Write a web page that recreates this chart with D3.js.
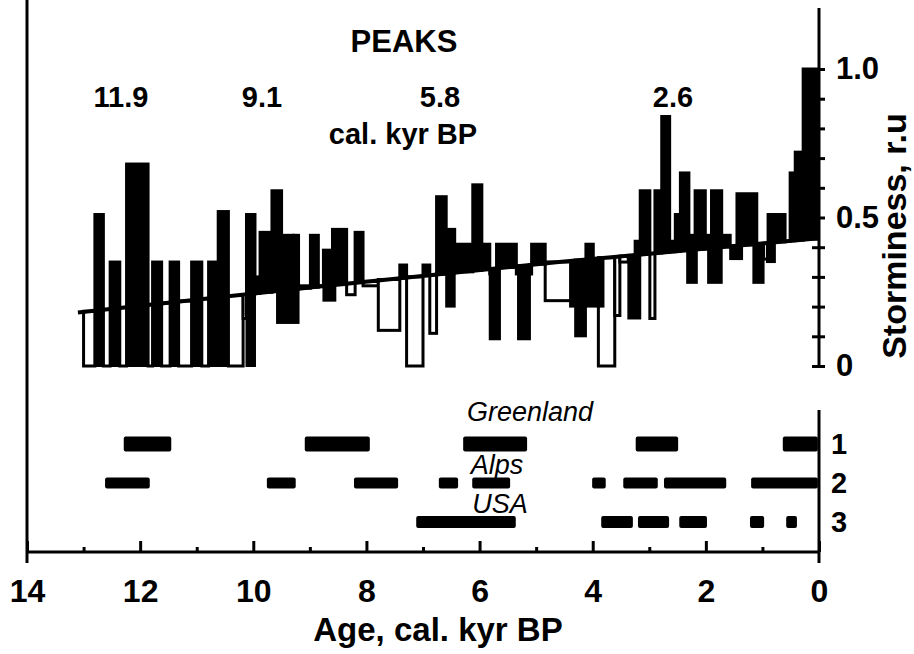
<!DOCTYPE html>
<html>
<head>
<meta charset="utf-8">
<script src="https://cdn.jsdelivr.net/npm/d3@7"></script>
<style>
  body { margin: 0; background: #fff; }
  svg { display: block; font-family: "Liberation Sans", Arial, sans-serif; }
</style>
</head>
<body>
<script>
/* ============================ DATA ============================ */

// storminess record: start age of each bin (cal. kyr BP), the last bin ends at stormEnd
var stormAge = [13.00, 12.80, 12.65, 12.53, 12.36, 12.24, 12.08, 12.03, 11.86, 11.78,
                11.62, 11.47, 11.32, 11.09, 10.91, 10.79, 10.62, 10.44, 10.18, 10.12,
                 9.97,  9.88,  9.67,  9.50,  9.29,  9.20,  8.99,  8.85,  8.76,  8.60,
                 8.35,  8.20,  8.06,  7.79,  7.41,  7.29,  7.00,  6.88,  6.76,  6.59,
                 6.44,  6.12,  5.96,  5.82,  5.70,  5.35,  5.29,  5.11,  5.08,  4.84,
                 4.31,  4.12,  3.99,  3.90,  3.61,  3.52,  3.37,  3.25,  3.16,  2.99,
                 2.90,  2.78,  2.64,  2.54,  2.45,  2.30,  2.19,  2.01,  1.90,  1.72,
                 1.57,  1.45,  1.10,  0.98,  0.90,  0.78,  0.60,  0.51,  0.42,  0.28];
var stormEnd = 0.02;
var stormVal = [0.00, 0.51, 0.00, 0.35, 0.00, 0.68, 0.37, 0.68, 0.00, 0.35,
                0.00, 0.35, 0.00, 0.35, 0.00, 0.35, 0.52, 0.00, 0.16, 0.51,
                0.30, 0.45, 0.59, 0.44, 0.44, 0.27, 0.44, 0.27, 0.39, 0.46,
                0.24, 0.45, 0.27, 0.12, 0.34, 0.00, 0.34, 0.11, 0.57, 0.46,
                0.41, 0.61, 0.41, 0.31, 0.41, 0.31, 0.31, 0.31, 0.41, 0.22,
                0.30, 0.41, 0.30, 0.00, 0.17, 0.35, 0.36, 0.42, 0.59, 0.16,
                0.59, 0.84, 0.42, 0.51, 0.65, 0.44, 0.59, 0.44, 0.59, 0.44,
                0.40, 0.58, 0.40, 0.36, 0.51, 0.51, 0.42, 0.65, 0.72, 1.00];

// filled low-storminess segments (from the trend down to darkLow)
var darkFrom = [12.80, 12.53, 12.24, 11.78, 11.47, 11.09, 10.79, 10.12, 9.58, 8.76,
                6.59, 5.82, 5.32, 4.40, 4.31, 3.37, 2.33, 1.96, 1.57, 1.16, 0.92];
var darkTo   = [12.65, 12.36, 11.86, 11.62, 11.32, 10.91, 10.44, 9.97, 9.20, 8.55,
                6.44, 5.64, 5.11, 3.81, 4.12, 3.16, 2.16, 1.72, 1.36, 0.98, 0.78];
var darkLow  = [0, 0, 0, 0, 0, 0, 0, 0, 0.145, 0.22,
                0.20, 0.09, 0.09, 0.20, 0.10, 0.16, 0.28, 0.28, 0.36, 0.28, 0.35];

// linear-ish trend
var trendAge = [13.1, 9.2, 4.6, 0.0];
var trendVal = [0.18, 0.26, 0.35, 0.43];

var peakAges = [11.9, 9.1, 5.8, 2.6];

// records of storm periods, rows 1-3
var rowNames = ["1", "2", "3"];
var rowLabels = ["Greenland", "Alps", "USA"];
var greenland = [[12.29, 11.45], [9.09, 7.94], [6.29, 5.16], [3.24, 2.49], [0.64, 0.02]];
var alps = [[12.62, 11.83], [9.76, 9.25], [8.22, 7.44], [6.72, 6.38], [6.13, 5.46],
            [4.01, 3.77], [3.46, 2.85], [2.74, 1.64], [1.20, 0.02]];
var usa = [[7.12, 5.36], [3.85, 3.29], [3.20, 2.65], [2.47, 1.98], [1.22, 0.97], [0.58, 0.39]];

var ageTicks = [14, 12, 10, 8, 6, 4, 2, 0];
var ageMinor = [13, 11, 9, 7, 5, 3, 1];
var stormTicks = [0, 0.1, 0.2, 0.3, 0.4, 0.5, 0.6, 0.7, 0.8, 0.9, 1.0];
var stormLabelled = {0: "0", 0.5: "0.5", 1: "1.0"};

/* ============================ SCALES ============================ */

var width = 914,
    height = 654;

var x = d3.scaleLinear().domain([14, 0]).range([27, 819]);
var y = d3.scaleLinear().domain([0, 1]).range([366, 69]);
var trend = d3.scaleLinear().domain(trendAge).range(trendVal);
var row = d3.scalePoint().domain(rowNames).range([444, 522]);

var svg = d3.select('body').append('svg')
    .attr('width', width)
    .attr('height', height);

/* ============================ STORMINESS ============================ */

var bins = stormVal.map(function(v, i) {
  var a1 = i < stormAge.length - 1 ? stormAge[i + 1] : stormEnd;
  return {a0: stormAge[i], a1: a1, v: v, t: trend((stormAge[i] + a1) / 2)};
});

svg.append('g').selectAll('rect')
    .data(bins.filter(function(d) { return d.v < d.t; }))
  .enter().append('rect')
    .attr('x', function(d) { return x(d.a0); })
    .attr('width', function(d) { return x(d.a1) - x(d.a0); })
    .attr('y', function(d) { return y(d.t); })
    .attr('height', function(d) { return y(d.v) - y(d.t); })
    .style('fill', '#fff')
    .style('stroke', '#000')
    .style('stroke-width', 3);

var dark = darkFrom.map(function(a, i) {
  return {a0: a, a1: darkTo[i], v: darkLow[i], t: trend((a + darkTo[i]) / 2)};
});

svg.append('g').selectAll('rect')
    .data(dark)
  .enter().append('rect')
    .attr('x', function(d) { return x(d.a0) - 1; })
    .attr('width', function(d) { return x(d.a1) - x(d.a0) + 2; })
    .attr('y', function(d) { return y(d.t); })
    .attr('height', function(d) { return y(d.v) - y(d.t) + 1; })
    .style('fill', '#000');

svg.append('g').selectAll('rect')
    .data(bins.filter(function(d) { return d.v >= d.t; }))
  .enter().append('rect')
    .attr('x', function(d) { return x(d.a0); })
    .attr('width', function(d) { return x(d.a1) - x(d.a0); })
    .attr('y', function(d) { return y(d.v); })
    .attr('height', function(d) { return y(d.t) - y(d.v); })
    .style('fill', '#000')
    .style('stroke', '#000')
    .style('stroke-width', 3);

var trendLine = d3.line()
    .x(function(d, i) { return x(d); })
    .y(function(d, i) { return y(trendVal[i]); })
    .curve(d3.curveMonotoneX);

svg.append('path')
    .attr('d', trendLine(trendAge))
    .style('fill', 'none')
    .style('stroke', '#000')
    .style('stroke-width', 4);

/* ============================ STORM RECORDS ============================ */

var rowHeight = {"1": 15, "2": 11, "3": 12};
[greenland, alps, usa].forEach(function(periods, r) {
  var name = rowNames[r];
  svg.append('g').selectAll('rect')
      .data(periods)
    .enter().append('rect')
      .attr('x', function(d) { return x(d[0]); })
      .attr('width', function(d) { return x(d[1]) - x(d[0]); })
      .attr('y', row(name) - rowHeight[name] / 2)
      .attr('height', rowHeight[name])
      .attr('rx', 2)
      .style('fill', '#000');
});

var labelPos = [[530, row("1") - 23], [497, row("2") - 9], [500, row("3") - 9]];
svg.append('g').selectAll('text')
    .data(rowLabels)
  .enter().append('text')
    .attr('x', function(d, i) { return labelPos[i][0]; })
    .attr('y', function(d, i) { return labelPos[i][1]; })
    .attr('text-anchor', 'middle')
    .style('font-size', '27px')
    .style('font-style', 'italic')
    .text(function(d) { return d; });

svg.append('g').selectAll('text')
    .data(rowNames)
  .enter().append('text')
    .attr('x', 831)
    .attr('y', function(d) { return row(d); })
    .attr('dy', '0.36em')
    .style('font-size', '29px')
    .style('font-weight', 'bold')
    .text(function(d) { return d; });

/* ============================ AXES ============================ */

function styleAxis(g) {
  g.select('.domain').remove();
  g.selectAll('line').style('stroke', '#000').style('stroke-width', 3);
  g.selectAll('text')
      .style('font-family', '"Liberation Sans", Arial, sans-serif')
      .style('font-weight', 'bold')
      .style('fill', '#000');
}

var lines = svg.append('g').style('stroke', '#000').style('stroke-width', 3);
lines.append('line').attr('x1', x(14)).attr('x2', x(14)).attr('y1', 0).attr('y2', 563);
lines.append('line').attr('x1', x(14)).attr('x2', x(0)).attr('y1', 552).attr('y2', 552);
lines.append('line').attr('x1', x(0)).attr('x2', x(0)).attr('y1', 8).attr('y2', y(0));
lines.append('line').attr('x1', x(0)).attr('x2', x(0)).attr('y1', 410).attr('y2', 563);

svg.append('g')
    .attr('transform', 'translate(0,552)')
    .call(d3.axisTop(x).tickValues(ageTicks).tickSize(11).tickFormat(''))
    .call(styleAxis);

svg.append('g')
    .attr('transform', 'translate(0,552)')
    .call(d3.axisTop(x).tickValues(ageMinor).tickSize(5).tickFormat(''))
    .call(styleAxis);

svg.append('g')
    .attr('transform', 'translate(0,552)')
    .call(d3.axisBottom(x).tickValues(ageTicks).tickSize(0).tickPadding(27).tickFormat(d3.format('d')))
    .call(styleAxis)
    .selectAll('text').style('font-size', '32px');

svg.append('g')
    .attr('transform', 'translate(' + x(0) + ',0)')
    .call(d3.axisLeft(y).tickValues(stormTicks).tickSize(7).tickFormat(''))
    .call(styleAxis);

svg.append('g')
    .attr('transform', 'translate(' + x(0) + ',0)')
    .call(d3.axisRight(y).tickValues(stormTicks).tickSize(6).tickPadding(11)
      .tickFormat(function(d) { return stormLabelled[Math.round(d * 10) / 10] || ''; }))
    .call(styleAxis)
    .selectAll('text').style('font-size', '31px');

svg.append('text')
    .attr('transform', 'translate(906,236) rotate(-90)')
    .attr('text-anchor', 'middle')
    .style('font-size', '34px')
    .style('font-weight', 'bold')
    .text('Storminess, r.u');

svg.append('text')
    .attr('x', 438)
    .attr('y', 641)
    .attr('text-anchor', 'middle')
    .style('font-size', '33px')
    .style('font-weight', 'bold')
    .text('Age, cal. kyr BP');

/* ============================ PEAKS ============================ */

svg.append('text')
    .attr('x', 404).attr('y', 52)
    .attr('text-anchor', 'middle')
    .style('font-size', '31px')
    .style('font-weight', 'bold')
    .text('PEAKS');

// label centres, as placed in the figure (not at the peak ages)
var peakLabelX = [121, 262, 440, 673];
svg.append('g').selectAll('text')
    .data(peakAges)
  .enter().append('text')
    .attr('x', function(d, i) { return peakLabelX[i]; })
    .attr('y', 107)
    .attr('text-anchor', 'middle')
    .style('font-size', '29px')
    .style('font-weight', 'bold')
    .text(function(d) { return d3.format('.1f')(d); });

svg.append('text')
    .attr('x', 403).attr('y', 144)
    .attr('text-anchor', 'middle')
    .style('font-size', '29px')
    .style('font-weight', 'bold')
    .text('cal. kyr BP');
</script>
</body>
</html>
